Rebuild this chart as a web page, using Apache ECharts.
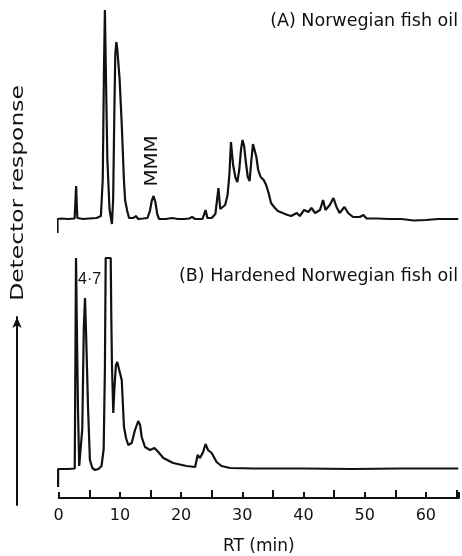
<!DOCTYPE html>
<html>
<head>
<meta charset="utf-8">
<script src="https://cdn.jsdelivr.net/npm/echarts@6/dist/echarts.min.js"></script>
<style>
html,body{margin:0;padding:0;background:#fff;}
#chart{width:462px;height:556px;}
</style>
</head>
<body>
<div id="chart"></div>
<script>
// Retention time (min) and detector response (arbitrary units) for trace A
const traceA = [
  [-0.2,-14],[-0.2,0],[0.5,0.5],[1.5,0],[2.6,0.5],[2.75,20],[2.85,33],[2.95,15],[3.05,1],[4,0],[5,0.5],[6.2,1],[6.9,3],
  [7.2,40],[7.4,150],[7.55,209],[7.7,150],[7.95,60],[8.3,10],[8.7,-5],[8.9,20],[9.1,110],[9.25,165],[9.42,177],[9.6,168],
  [9.95,140],[10.3,95],[10.65,40],[10.85,19],[11.05,18],[11.2,8],[11.5,1],[12.2,1],[12.6,3],[13.0,0],[13.8,0.5],[14.5,1],
  [14.9,8],[15.2,18],[15.5,23],[15.8,17],[16.1,5],[16.4,0],[17.5,0],[18.5,1],[19.5,0],[20.5,0],[21.3,0.5],[21.8,2],[22.3,0],
  [23.5,0],[24.0,9],[24.3,1],[25.0,1],[25.6,5],[25.9,20],[26.1,31],[26.4,10],[26.7,9],[27.2,14],[27.6,24],[27.9,45],
  [28.15,77],[28.5,54],[28.9,41],[29.2,37],[29.5,49],[29.8,70],[30.05,79],[30.3,73],[30.6,56],[30.9,42],[31.2,38],[31.5,60],
  [31.75,75],[32.0,76],[32.3,62],[32.6,49],[33.0,42],[33.5,39],[33.9,34],[34.3,26],[34.7,16],[35.2,12],[35.8,8],[36.6,6],
  [37.4,4],[38.0,3],[38.9,6],[39.4,3],[40.1,9],[40.8,7],[41.3,11],[41.9,6],[42.7,9],[43.2,19],[43.6,9],[44.3,14],[44.9,21],
  [45.4,12],[45.9,6],[46.7,12],[47.3,6],[48.1,2],[49.2,2],[49.8,4],[50.3,0.5],[52,0.5],[54,0],[56,0],[58,-1.5],[60,-1],
  [62,0],[64,0],[65.3,0]
];
// Retention time (min) and detector response (arbitrary units) for trace B
const traceB = [
  [-0.1,-18],[-0.1,0],[1.5,0],[2.62,0.5],[2.72,100],[2.83,211],[2.95,150],[3.15,60],[3.35,3],[3.6,2],[3.85,40],[4.1,140],
  [4.3,171],[4.5,130],[4.8,60],[5.1,9],[5.5,1],[5.93,-1],[6.5,0],[7.0,3],[7.35,20],[7.55,100],[7.68,211],[8.5,211],[8.6,150],
  [8.7,105],[8.92,56],[9.1,80],[9.35,104],[9.58,107],[9.85,100],[10.3,89],[10.67,42],[11.0,31],[11.37,24],[11.93,26],
  [12.47,39],[13.0,48],[13.3,44],[13.56,32],[14.1,22],[14.92,19],[15.65,21],[16.27,17],[17.1,11],[18.7,6],[20.9,3],[22.3,2],
  [22.5,2],[22.7,14],[23.1,11],[23.6,17],[24.0,25],[24.4,19],[25.0,16],[25.8,7],[26.6,3],[28.0,1],[32,0.5],[40,0.5],[48,0],
  [56,0.5],[65.3,0.5]
];
const xTicks = [0, 10, 20, 30, 40, 50, 60];
const titleA = '(A) Norwegian fish oil';
const titleB = '(B) Hardened Norwegian fish oil';
const peakLabelB = '4\u00b77';
const peakLabelA = 'MMM';
const yTitle = 'Detector response';
const xTitle = 'RT (min)';

const ink = '#111';
const font = '"DejaVu Sans", sans-serif';
const X_MIN = 0, X_MAX = 65.4;

const chart = echarts.init(document.getElementById('chart'), null, {renderer: 'canvas'});
chart.setOption({
  animation: false,
  backgroundColor: '#fff',
  grid: [
    {left: 58.7, right: 462 - 458.9, top: 10, height: 223},
    {left: 58.7, right: 462 - 458.9, top: 258, height: 240},
    {left: 17, width: 2, top: 317, height: 188}
  ],
  xAxis: [
    {gridIndex: 0, type: 'value', min: X_MIN, max: X_MAX, show: false},
    {gridIndex: 1, type: 'value', min: X_MIN, max: X_MAX, interval: 10,
      axisLine: {show: true, onZero: false, lineStyle: {color: ink, width: 2}},
      axisTick: {show: true, inside: true, length: 6, lineStyle: {color: ink, width: 2}},
      minorTick: {show: true, splitNumber: 2, length: 8, lineStyle: {color: ink, width: 2}},
      splitLine: {show: false},
      axisLabel: {color: ink, fontFamily: font, fontSize: 16, margin: 10,
        formatter: v => xTicks.indexOf(v) >= 0 ? String(v) : ''},
      name: xTitle, nameLocation: 'middle', nameGap: 40,
      nameTextStyle: {color: ink, fontFamily: font, fontSize: 17}
    },
    {gridIndex: 2, type: 'value', show: false}
  ],
  yAxis: [
    {gridIndex: 0, type: 'value', min: -14, max: 209, show: false},
    {gridIndex: 1, type: 'value', min: -29, max: 211, show: false},
    {gridIndex: 2, type: 'value', min: 0, max: 1,
      axisLine: {show: true, symbol: ['none', 'arrow'], symbolSize: [7, 11], lineStyle: {color: ink, width: 2}},
      axisTick: {show: false}, axisLabel: {show: false}, splitLine: {show: false}
    }
  ],
  series: [
    {type: 'line', xAxisIndex: 0, yAxisIndex: 0, data: traceA, showSymbol: false, symbol: 'none',
      lineStyle: {color: ink, width: 2.2}, clip: false},
    {type: 'line', xAxisIndex: 1, yAxisIndex: 1, data: traceB, showSymbol: false, symbol: 'none',
      lineStyle: {color: ink, width: 2.2}, clip: false}
  ],
  graphic: [
    {type: 'text', right: 4, top: 12, style: {text: titleA, font: '17.5px ' + font, fill: ink}},
    {type: 'text', right: 4, top: 267, style: {text: titleB, font: '17.5px ' + font, fill: ink}},
    {type: 'text', left: 78, top: 272, style: {text: peakLabelB, font: '16px "Liberation Sans", sans-serif', fill: ink}},
    {type: 'text', x: 152, y: 161, rotation: Math.PI / 2, scaleX: 1.1,
      style: {text: peakLabelA, font: '18px ' + font, fill: ink, align: 'center', verticalAlign: 'middle'}},
    {type: 'text', x: 18, y: 193, rotation: Math.PI / 2, scaleX: 1.3,
      style: {text: yTitle, font: '18px ' + font, fill: ink, align: 'center', verticalAlign: 'middle'}}
  ]
});
</script>
</body>
</html>
